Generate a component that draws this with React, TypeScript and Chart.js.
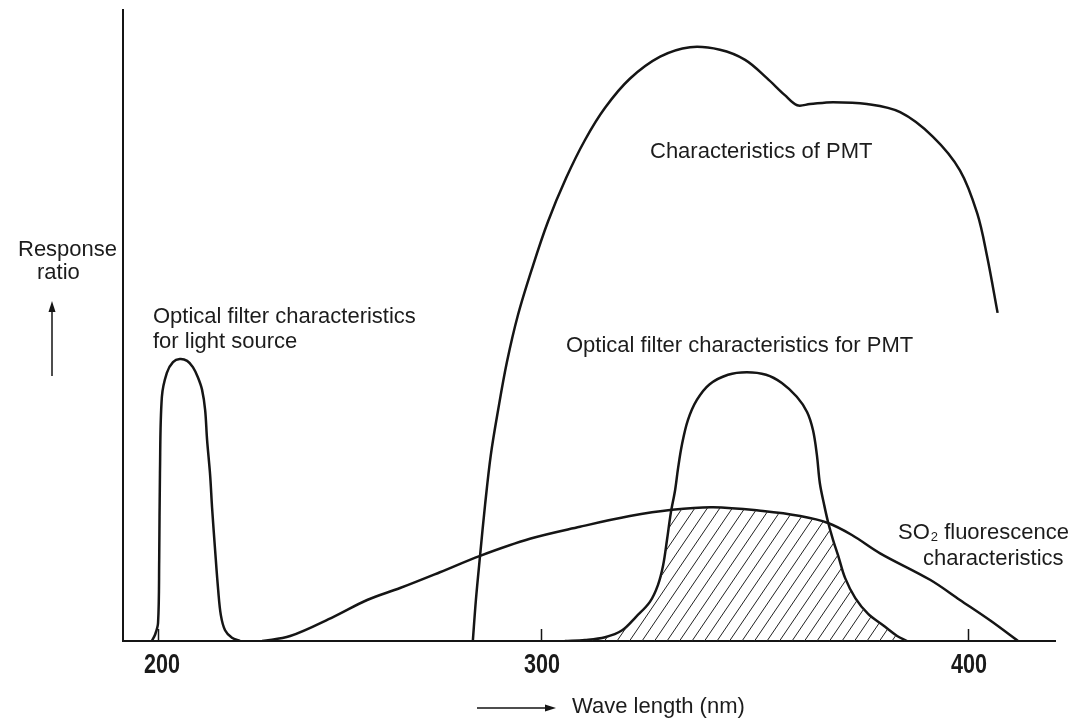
import React, { useEffect, useRef } from 'react';
import { Chart, registerables, LinearScale } from 'chart.js';

Chart.register(...registerables);

// ---------- data (wavelength in nm, relative response 0..100) ----------
const X_TICKS = [200, 300, 400];
const X_MIN = 191;
const X_MAX = 420;

const LIGHT_FILTER_NM = [198.4, 199.2, 200.0, 200.3, 200.5, 201.0, 202.3, 203.9, 205.7, 207.6, 209.1, 210.4, 211.5, 212.3, 212.8, 213.6, 214.1, 214.9, 215.7, 216.4, 217.5, 219.3, 221.4];
const LIGHT_FILTER_RESP = [0, 0.95, 2.85, 12.8, 26.6, 38.7, 42.5, 44.2, 44.7, 44.4, 43.4, 41.8, 39.8, 36.6, 31.9, 26.3, 21.2, 14.4, 8.1, 4.1, 1.7, 0.5, 0];

const PMT_NM = [282.2, 283.0, 284.1, 285.4, 286.9, 288.8, 291.1, 294.0, 297.7, 301.6, 305.9, 310.3, 315.0, 320.8, 327.9, 334.9, 341.9, 347.8, 352.9, 357.1, 360.0, 363.0, 368.4, 376.3, 384.1, 391.8, 398.1, 402.1, 404.4, 406.8];
const PMT_RESP = [0, 6.5, 13.6, 21.6, 29.5, 36.6, 44.2, 51.7, 59.1, 66.4, 73.4, 79.4, 84.5, 89.1, 92.6, 94.1, 93.7, 92.1, 89.2, 86.5, 84.9, 85.1, 85.4, 85.1, 83.8, 79.9, 74.6, 67.8, 60.9, 52.0];

const PMT_FILTER_NM = [305.6, 310.3, 315.0, 319.0, 322.2, 325.5, 327.4, 328.6, 329.5, 330.4, 331.4, 332.1, 333.0, 334.4, 336.5, 339.5, 343.8, 348.2, 352.7, 356.4, 359.9, 362.3, 363.7, 364.6, 365.3, 366.3, 367.2, 368.4, 369.6, 371.2, 373.6, 376.6, 380.1, 383.4, 385.7];
const PMT_FILTER_RESP = [0, 0.16, 0.6, 1.7, 3.8, 6.2, 8.9, 12.0, 16.0, 20.3, 23.9, 27.4, 31.1, 35.0, 38.2, 40.7, 42.2, 42.6, 42.2, 40.9, 38.7, 36.3, 33.4, 29.5, 25.0, 21.6, 18.9, 16.0, 13.5, 10.0, 6.8, 4.3, 2.5, 0.8, 0];

const SO2_NM = [227.2, 234.5, 245.7, 254.6, 263.2, 273.6, 284.1, 297.1, 309.1, 320.8, 330.7, 340.3, 352.0, 360.7, 367.2, 372.8, 379.4, 391.1, 398.1, 405.2, 411.5];
const SO2_RESP = [0, 0.79, 3.8, 6.5, 8.4, 10.9, 13.5, 16.2, 18.1, 19.8, 20.8, 21.2, 20.6, 19.8, 18.7, 16.8, 13.9, 9.7, 6.5, 3.2, 0];

const LABEL_LIGHT = ['Optical filter characteristics', 'for light source'];
const LABEL_PMT = 'Characteristics of PMT';
const LABEL_PMT_FILTER = 'Optical filter characteristics for PMT';
const LABEL_SO2 = ['SO', '2', ' fluorescence', 'characteristics'];
const LABEL_Y = ['Response', 'ratio'];
const LABEL_X = 'Wave length (nm)';

// ---------- the original figure's wavelength axis is not evenly spaced ----------
const AXIS_KNOTS_NM = [X_MIN, 200, 300, 400, X_MAX];
const AXIS_KNOTS_FRAC = [0, 0.0376, 0.4485, 0.9067, 1];

function interp(v: number, xs: number[], ys: number[]) {
  let i = 0;
  while (i < xs.length - 2 && v > xs[i + 1]) i++;
  const t = (v - xs[i]) / (xs[i + 1] - xs[i]);
  return ys[i] + t * (ys[i + 1] - ys[i]);
}

class PiecewiseScale extends LinearScale {
  static id = 'piecewise';
  getPixelForValue(value: any) {
    if (value === null || value === undefined || isNaN(value)) return NaN;
    return this.getPixelForDecimal(interp(value, AXIS_KNOTS_NM, AXIS_KNOTS_FRAC));
  }
  getValueForPixel(pixel: number) {
    return interp(this.getDecimalForPixel(pixel), AXIS_KNOTS_FRAC, AXIS_KNOTS_NM);
  }
}
Chart.register(PiecewiseScale as any);

const toPts = (xs: number[], ys: number[]) => xs.map((x, i) => ({ x, y: ys[i] }));

const INK = '#151515';
const TEXT_FONT = '"Liberation Sans", Arial, Helvetica, sans-serif';

function areaPath(ctx: CanvasRenderingContext2D, meta: any, bottom: number) {
  const pts = meta.data;
  const first = pts[0];
  const last = pts[pts.length - 1];
  const line = meta.dataset;
  if (line && typeof line.path === 'function') {
    line.path(ctx);
  } else {
    ctx.moveTo(first.x, first.y);
    for (let i = 1; i < pts.length; i++) ctx.lineTo(pts[i].x, pts[i].y);
  }
  ctx.lineTo(last.x, bottom);
  ctx.lineTo(first.x, bottom);
  ctx.closePath();
}

const figurePlugin = {
  id: 'figureDecor',
  afterDatasetsDraw(chart: any) {
    const { ctx, chartArea } = chart;
    const so2 = chart.getDatasetMeta(3);
    const filt = chart.getDatasetMeta(2);
    const bottom = chartArea.bottom;
    ctx.save();
    ctx.beginPath();
    areaPath(ctx, filt, bottom);
    ctx.clip();
    ctx.beginPath();
    areaPath(ctx, so2, bottom);
    ctx.clip();
    ctx.strokeStyle = '#222';
    ctx.lineWidth = 1;
    const H = chartArea.bottom - chartArea.top;
    ctx.beginPath();
    for (let x0 = chartArea.left - H; x0 < chartArea.right; x0 += 12.5) {
      ctx.moveTo(x0, bottom);
      ctx.lineTo(x0 + H * 0.68, bottom - H);
    }
    ctx.stroke();
    ctx.restore();
  },
  afterDraw(chart: any) {
    const { ctx, chartArea } = chart;
    const xs = chart.scales.x;
    ctx.save();
    // inward tick marks
    ctx.strokeStyle = INK;
    ctx.lineWidth = 1.5;
    ctx.beginPath();
    for (const v of X_TICKS) {
      const px = Math.round(xs.getPixelForValue(v)) + 0.5;
      ctx.moveTo(px, chartArea.bottom);
      ctx.lineTo(px, chartArea.bottom - 12);
    }
    ctx.stroke();

    // tick labels (condensed bold digits as in the figure)
    ctx.fillStyle = '#1a1a1a';
    ctx.textAlign = 'center';
    ctx.textBaseline = 'middle';
    ctx.font = `bold 27px ${TEXT_FONT}`;
    for (const v of X_TICKS) {
      const px = xs.getPixelForValue(v) + (v === 200 ? 4 : 1);
      ctx.save();
      ctx.translate(px, chartArea.bottom + 25);
      ctx.scale(0.8, 1);
      ctx.fillText(String(v), 0, 0);
      ctx.restore();
    }

    ctx.fillStyle = '#1c1c1c';
    ctx.textBaseline = 'middle';
    ctx.textAlign = 'left';
    ctx.font = `22px ${TEXT_FONT}`;
    // y-axis caption
    ctx.fillText(LABEL_Y[0], 18, 250);
    ctx.fillText(LABEL_Y[1], 37, 273);
    // curve labels
    ctx.fillText(LABEL_LIGHT[0], 153, 317);
    ctx.fillText(LABEL_LIGHT[1], 153, 342);
    ctx.fillText(LABEL_PMT, 650, 152);
    ctx.fillText(LABEL_PMT_FILTER, 566, 346);
    // SO2 label with subscript
    let x = 898;
    ctx.fillText(LABEL_SO2[0], x, 533);
    x += ctx.measureText(LABEL_SO2[0]).width + 1;
    ctx.font = `13px ${TEXT_FONT}`;
    ctx.fillText(LABEL_SO2[1], x, 537);
    x += ctx.measureText(LABEL_SO2[1]).width;
    ctx.font = `22px ${TEXT_FONT}`;
    ctx.fillText(LABEL_SO2[2], x, 533);
    ctx.fillText(LABEL_SO2[3], 923, 559);
    // x-axis caption
    ctx.fillText(LABEL_X, 572, 707);

    // arrows
    ctx.strokeStyle = INK;
    ctx.fillStyle = INK;
    ctx.lineWidth = 1.5;
    ctx.beginPath();
    ctx.moveTo(52, 376);
    ctx.lineTo(52, 308);
    ctx.moveTo(477, 708);
    ctx.lineTo(548, 708);
    ctx.stroke();
    ctx.beginPath();
    ctx.moveTo(52, 301);
    ctx.lineTo(48.5, 312);
    ctx.lineTo(55.5, 312);
    ctx.closePath();
    ctx.fill();
    ctx.beginPath();
    ctx.moveTo(556, 708);
    ctx.lineTo(545, 704.5);
    ctx.lineTo(545, 711.5);
    ctx.closePath();
    ctx.fill();
    ctx.restore();
  },
};

const lineStyle = {
  borderColor: INK,
  borderWidth: 2.5,
  pointRadius: 0,
  pointHoverRadius: 0,
  fill: false,
  tension: 0.35,
};

export default function App() {
  const canvasRef = useRef<HTMLCanvasElement | null>(null);

  useEffect(() => {
    const canvas = canvasRef.current;
    if (!canvas) return;
    const chart = new Chart(canvas, {
      type: 'line',
      data: {
        datasets: [
          { label: 'Optical filter characteristics for light source', data: toPts(LIGHT_FILTER_NM, LIGHT_FILTER_RESP), ...lineStyle },
          { label: 'Characteristics of PMT', data: toPts(PMT_NM, PMT_RESP), ...lineStyle },
          { label: 'Optical filter characteristics for PMT', data: toPts(PMT_FILTER_NM, PMT_FILTER_RESP), ...lineStyle },
          { label: 'SO2 fluorescence characteristics', data: toPts(SO2_NM, SO2_RESP), ...lineStyle },
        ],
      },
      options: {
        responsive: false,
        devicePixelRatio: 1,
        animation: false,
        events: [],
        layout: { padding: { left: 123, right: 13, top: 10, bottom: 0 } },
        plugins: { legend: { display: false }, tooltip: { enabled: false }, title: { display: false } },
        scales: {
          x: {
            type: 'piecewise' as any,
            position: 'bottom',
            min: X_MIN,
            max: X_MAX,
            grid: { display: false, drawTicks: false },
            border: { display: true, color: INK, width: 2 },
            afterBuildTicks: (scale: any) => {
              scale.ticks = X_TICKS.map((v) => ({ value: v }));
            },
            afterFit: (scale: any) => {
              scale.height = 77;
            },
            ticks: { display: false },
          },
          y: {
            type: 'linear',
            min: 0,
            max: 100,
            grid: { display: false, drawTicks: false },
            border: { display: true, color: INK, width: 2 },
            ticks: { display: false },
            afterFit: (scale: any) => {
              scale.width = 0;
            },
          },
        },
      },
      plugins: [figurePlugin],
    });
    return () => chart.destroy();
  }, []);

  return (
    <div style={{ position: 'fixed', left: 0, top: 0, width: 1068, height: 718, background: '#fff' }}>
      <canvas ref={canvasRef} width={1068} height={718} style={{ display: 'block' }} />
    </div>
  );
}
